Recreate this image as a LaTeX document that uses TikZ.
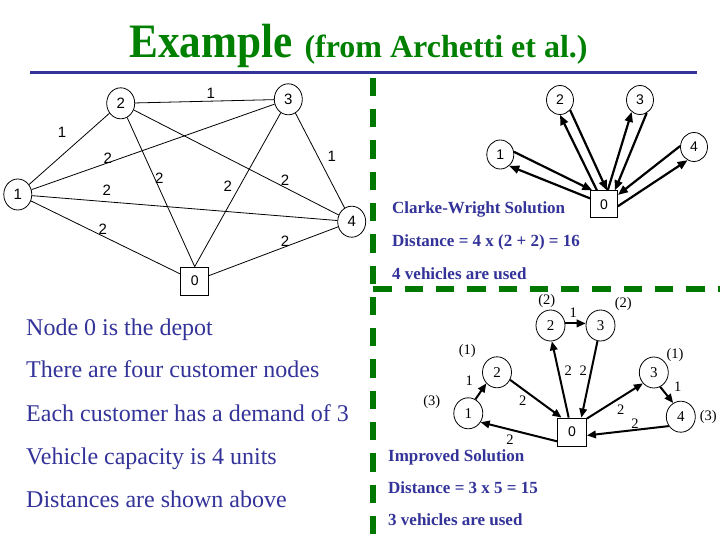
\documentclass[tikz,border=0pt]{standalone}
\usepackage{fontspec}
\setmainfont{Liberation Serif}
\newfontfamily\arialf{Liberation Sans}
\usetikzlibrary{arrows.meta,shapes.geometric}
\definecolor{tgreen}{RGB}{0,128,0}
\definecolor{tblue}{RGB}{51,51,153}
\definecolor{dgreen}{RGB}{0,120,0}
\begin{document}
\begin{tikzpicture}[x=1pt,y=-1pt,
  cnode/.style={ellipse,draw,line width=0.8pt,minimum width=28pt,minimum height=31pt,inner sep=0pt,font=\arialf\fontsize{15}{15}\selectfont},
  rnode/.style={ellipse,draw,line width=0.8pt,minimum width=27pt,minimum height=29pt,inner sep=0pt,font=\arialf\fontsize{14}{14}\selectfont},
  bnode/.style={ellipse,draw,line width=0.8pt,minimum width=29pt,minimum height=31pt,inner sep=0pt,font=\fontsize{15}{15}\selectfont},
  snode/.style={rectangle,draw,line width=0.8pt,minimum width=28pt,minimum height=28pt,inner sep=0pt,font=\arialf\fontsize{14}{14}\selectfont},
  elab/.style={inner sep=0pt,font=\arialf\fontsize{15}{15}\selectfont},
  blab/.style={inner sep=0pt,font=\fontsize{14.5}{14.5}\selectfont},
  edge/.style={line width=0.8pt},
  arr/.style={line width=2.2pt,-{Triangle[length=10pt,width=8pt]}},
  barr/.style={line width=2pt,-{Triangle[length=9pt,width=7.5pt]}},
  ltext/.style={anchor=base west,inner sep=0pt,text=tblue,font=\fontsize{24}{24}\selectfont},
  rtext/.style={anchor=base west,inner sep=0pt,text=tblue,font=\bfseries\fontsize{17}{17}\selectfont},
  gdash/.style={draw=dgreen,line width=6pt,dash pattern=on 18.3pt off 13pt}
]
\useasboundingbox (0,0) rectangle (720,540);
\fill[white] (0,0) rectangle (720,540);

% title
\node[anchor=base west,inner sep=0pt,text=tgreen,font=\bfseries\fontsize{48}{48}\selectfont] (title) at (129.3,57.7) {\scalebox{0.9}[1]{Example}};
\node[anchor=base west,inner sep=0pt,text=tgreen,font=\bfseries\fontsize{32}{32}\selectfont] (subtitle) at (304.3,57.7) {(from Archetti et al.)};
\draw[tblue,line width=3pt] (30,73) -- (697,73);

% green dashed separators
\draw[gdash] (373,77.7) -- (373,540);
\draw[gdash] (373.3,288.7) -- (720,288.7);

% ---- top-left graph
\node[cnode] (g1) at (17.8,194.5) {1};
\node[cnode] (g2) at (120.7,103.3) {2};
\node[cnode] (g3) at (288.3,99.3) {3};
\node[cnode] (g4) at (351.7,221.7) {4};
\node[snode] (g0) at (194.7,281) {0};
\draw[edge] (g1) -- (g2);
\draw[edge] (g2) -- (g3);
\draw[edge] (g3) -- (g4);
\draw[edge] (g1) -- (g3);
\draw[edge] (g1) -- (g4);
\draw[edge] (g2) -- (g0.north);
\draw[edge] (g3) -- (g0.north);
\draw[edge] (g2) -- (g4);
\draw[edge] (g1) -- (g0);
\draw[edge] (g4) -- (g0);
\node[elab] (w12) at (62,132.7) {1};
\node[elab] (w23) at (210.7,93.3) {1};
\node[elab] (w34) at (331.7,156) {1};
\node[elab] (w13) at (107.7,158.3) {2};
\node[elab] (w14) at (106.7,190) {2};
\node[elab] (w20) at (159.3,178.3) {2};
\node[elab] (w30) at (227.7,186.7) {2};
\node[elab] (w24) at (285,180) {2};
\node[elab] (w10) at (102.7,229.3) {2};
\node[elab] (w40) at (285,241.7) {2};

% ---- left text
\node[ltext] (t1) at (26,335) {Node 0 is the depot};
\node[ltext] (t2) at (26,377.7) {There are four customer nodes};
\node[ltext] (t3) at (26,421) {Each customer has a demand of 3};
\node[ltext] (t4) at (26,464.3) {Vehicle capacity is 4 units};
\node[ltext] (t5) at (26,507.7) {Distances are shown above};

% ---- top-right: Clarke-Wright
\node[rnode] (r1) at (500.3,154.5) {1};
\node[rnode] (r2) at (560,100) {2};
\node[rnode] (r3) at (640,100) {3};
\node[rnode] (r4) at (694,147) {4};
\node[snode,minimum width=27pt,minimum height=27pt] (r0) at (604,204.3) {0};
\draw[arr] (r1.11) -- (r0.130.6);
\draw[arr] (r0.157.8) -- (r1.-52.4);
\draw[arr] (r0.117) -- (r2.-90);
\draw[arr] (r2.-45) -- (r0.78.7);
\draw[arr] (r0.75) -- (r3.-125.4);
\draw[arr] (r3.-63.6) -- (r0.52.9);
\draw[arr] (r4.176) -- (r0.34.5);
\draw[arr] (r0.-8.5) -- (r4.-116);
\node[rtext] (cw1) at (392,214) {Clarke-Wright Solution};
\node[rtext] (cw2) at (392,247) {Distance = 4 x (2 + 2) = 16};
\node[rtext] (cw3) at (392,279) {4 vehicles are used};

% ---- bottom-right: improved
\node[bnode] (b2u) at (550.5,325.5) {2};
\node[bnode] (b3u) at (600.5,325.5) {3};
\node[bnode] (b2l) at (497,372.3) {2};
\node[bnode] (b1) at (468.3,413.3) {1};
\node[bnode] (b3r) at (653.8,372.5) {3};
\node[bnode] (b4) at (680.8,416.7) {4};
\node[snode,minimum width=29pt,minimum height=28pt] (b0) at (572,432) {0};
\draw[barr] (b1.63.2) -- (b2l.-134.7);
\draw[barr] (b2l.-30) -- (b0.126.2);
\draw[barr] (b0.212.4) -- (b1.-36.7);
\draw[barr] (b0.103.6) -- (b2u.-85);
\draw[barr] (b2u.8) -- (b3u.172);
\draw[barr] (b3u.-101) -- (b0.57.4);
\draw[barr] (b0.42.3) -- (b3r.-135.6);
\draw[barr] (b3r.-66.4) -- (b4.119.2);
\draw[barr] (b4.218.7) -- (b0.-13.8);
\node[blab] (d2u) at (546.7,300.7) {(2)};
\node[blab] (d3u) at (623.3,304) {(2)};
\node[blab] (e23) at (573.3,312.7) {1};
\node[blab] (d2l) at (467.3,350.7) {(1)};
\node[blab] (d3r) at (675,355) {(1)};
\node[blab] (e12) at (469.3,381) {1};
\node[blab] (d1) at (431.7,401.7) {(3)};
\node[blab] (e20) at (522.7,400.7) {2};
\node[blab] (e02u) at (568.3,370.7) {2};
\node[blab] (e30u) at (583.3,370.7) {2};
\node[blab] (e34) at (677.7,386.7) {1};
\node[blab] (e03r) at (620.7,409.3) {2};
\node[blab] (e40) at (635,423.3) {2};
\node[blab] (d4) at (708.3,416.7) {(3)};
\node[blab] (e01) at (510,439.5) {2};
\node[rtext] (im1) at (388,461.5) {Improved Solution};
\node[rtext] (im2) at (388,493.3) {Distance = 3 x 5 = 15};
\node[rtext] (im3) at (388,525) {3 vehicles are used};
\end{tikzpicture}
\end{document}
